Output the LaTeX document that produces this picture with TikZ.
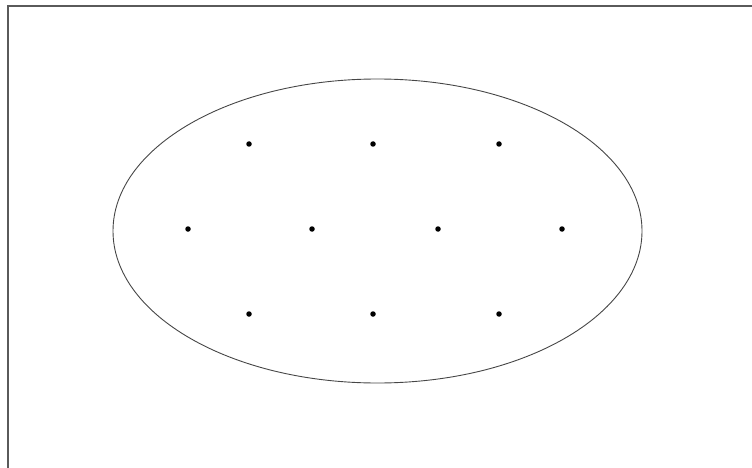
\documentclass[tikz,border=0pt]{standalone}
\usepackage{tikz}
\usetikzlibrary{shapes.geometric}
\definecolor{frame}{RGB}{90,90,90}
\definecolor{rim}{RGB}{70,70,70}

\begin{document}
\begin{tikzpicture}[x=1pt,y=-1pt,
    dot/.style={circle,fill=black,inner sep=0pt,minimum size=5.5pt}]
    \useasboundingbox (0,0) rectangle (752,468);
    % Frame (top and left edges only)
    \draw[frame,line width=1.6pt] (752,6) -- (8,6) -- (8,468);
    % Set
    \node[ellipse,draw=rim,line width=0.9pt,inner sep=0pt,
      minimum width=529pt,minimum height=304pt] (set) at (377.5,231) {};
    % Points, top row
    \node[dot] (p1) at (249,144) {};
    \node[dot] (p2) at (373,144) {};
    \node[dot] (p3) at (499,144) {};
    % middle row
    \node[dot] (p4) at (188,229) {};
    \node[dot] (p5) at (312,229) {};
    \node[dot] (p6) at (438,229) {};
    \node[dot] (p7) at (562,229) {};
    % bottom row
    \node[dot] (p8) at (249,314) {};
    \node[dot] (p9) at (373,314) {};
    \node[dot] (p10) at (499,314) {};
  \end{tikzpicture}
\end{document}
